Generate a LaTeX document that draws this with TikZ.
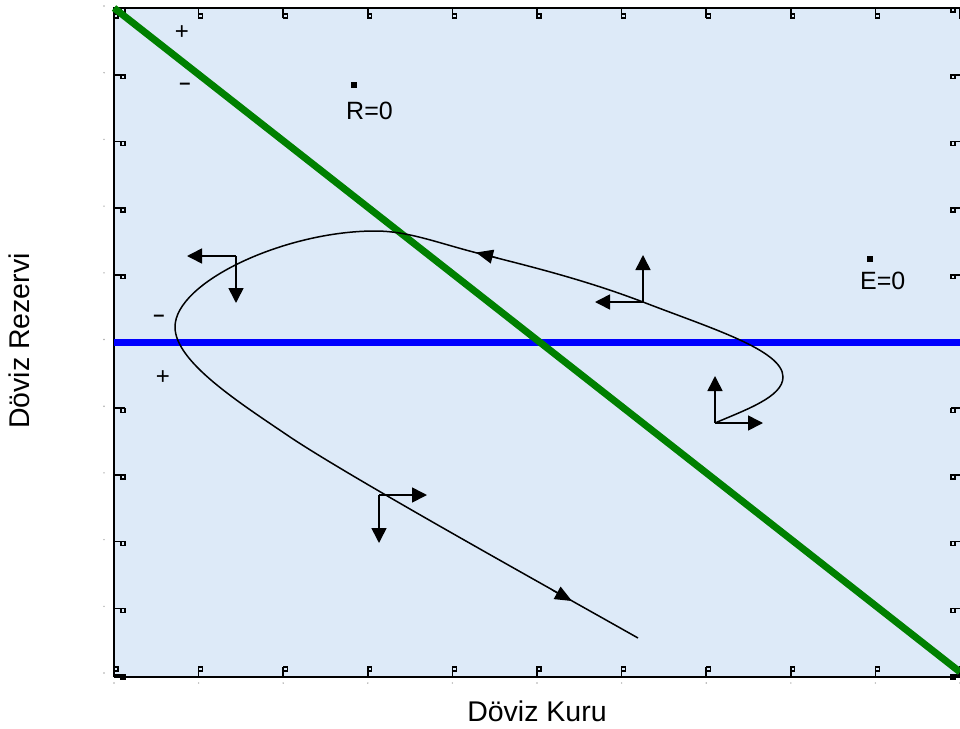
\documentclass[tikz,border=0pt]{standalone}
\usepackage{fontspec}
\setmainfont{Liberation Sans}
\usetikzlibrary{arrows.meta}
\definecolor{bgblue}{RGB}{221,234,248}
\definecolor{nullgreen}{RGB}{0,128,0}
\definecolor{nullblue}{RGB}{0,0,255}
\definecolor{dotgray}{RGB}{170,170,170}
\tikzset{
  frameline/.style={line width=2pt, black},
  tickline/.style={line width=1.6pt, black},
  phasearrow/.style={line width=1.6pt, black, -{Triangle[length=15pt,width=15pt]}},
  trajarrow/.style={line width=1.2pt, black, -{Triangle[length=17pt,width=14pt]}},
  traj/.style={line width=1.5pt, black},
  axislabel/.style={font=\fontsize{28.5}{32}\selectfont, inner sep=0pt},
  biglabel/.style={font=\fontsize{25}{30}\selectfont, inner sep=0pt},
  signlabel/.style={font=\fontsize{24}{26}\selectfont, inner sep=0pt},
  dashlabel/.style={font=\bfseries\fontsize{20}{24}\selectfont, inner sep=0pt},
  marker/.style={fill=black, minimum size=6pt, inner sep=0pt, draw=none}
}
\begin{document}
\begin{tikzpicture}[x=1pt,y=-1pt]
\useasboundingbox (0,0) rectangle (960,728);
% plot area
\fill[bgblue] (114,8) rectangle (960,677);
% faint dots outside the frame
\foreach \k in {0,...,10} {
  \fill[dotgray] ({104},{6+66.7*\k}) circle (0.8pt);
  \fill[dotgray] ({114+84.6*\k},683) circle (0.8pt);
}
% ticks
\foreach \k in {0,...,10} {
  \pgfmathsetmacro{\tx}{114+84.6*\k}
  \pgfmathsetmacro{\ty}{8+66.7*\k}
  % top
  \draw[tickline] (\tx,8) -- (\tx,18);
  \draw[line width=1.3pt] (\tx,14) rectangle ({\tx+4},18);
  % bottom
  \draw[tickline] (\tx,677) -- (\tx,667);
  \draw[line width=1.3pt] (\tx,667) rectangle ({\tx+4},671);
  % left
  \draw[tickline] (114,\ty) -- (125,\ty);
  \draw[line width=1.3pt] (121,\ty) rectangle (125,{\ty+4});
  % right
  \draw[tickline] (960,\ty) -- (951,\ty);
  \draw[line width=1.3pt] (951,\ty) rectangle (955,{\ty+4});
}
% frame
\draw[frameline] (114,677) -- (114,8) -- (956,8);
\draw[frameline] (114,677) -- (960,677);
% null clines
\coordinate (bL) at (114,342);
\coordinate (bR) at (960,342);
\coordinate (gT) at (114,8);
\coordinate (gB) at (960,672);
\draw[nullblue, line width=7pt] (bL) -- (bR);
\draw[nullgreen, line width=7pt] (gT) -- (gB);
% trajectory
\coordinate (cA) at (715,423);
\coordinate (cB) at (783,377);
\coordinate (cC) at (643,302);
\coordinate (cH) at (485,255);
\coordinate (cD) at (375,231);
\coordinate (cE) at (175,327);
\coordinate (cG) at (290,437);
\coordinate (cF) at (638,638);
\draw[traj] (cA) .. controls (745,410) and (783,397) .. (cB)
  .. controls (783,350) and (710,328) .. (cC)
  .. controls (588,281) and (535,267.5) .. (cH)
  .. controls (440,244) and (410,231) .. (cD)
  .. controls (285,231) and (175,282) .. (cE)
  .. controls (175,362) and (240,403) .. (cG)
  .. controls (350,477) and (528,576) .. (cF);
% arrowheads on the trajectory
\coordinate (ta1) at (552,590);
\coordinate (ta2) at (572,601);
\draw[trajarrow] (ta1) -- (ta2);
\coordinate (tb1) at (498,258);
\coordinate (tb2) at (476,252.5);
\draw[trajarrow] (tb1) -- (tb2);
% phase arrows
\coordinate (p1) at (236,256);
\draw[phasearrow] (p1) -- ++(-49,0);
\draw[phasearrow] (p1) -- ++(0,47);
\coordinate (p2) at (643,302);
\draw[phasearrow] (p2) -- ++(0,-47);
\draw[phasearrow] (p2) -- ++(-48,0);
\coordinate (p3) at (715,423);
\draw[phasearrow] (p3) -- ++(0,-47);
\draw[phasearrow] (p3) -- ++(48,0);
\coordinate (p4) at (379,495);
\draw[phasearrow] (p4) -- ++(48,0);
\draw[phasearrow] (p4) -- ++(0,48);
% labels
\node[marker] (mR) at (354,85) {};
\node[biglabel, anchor=base west] (lR) at (346,119) {R=0};
\node[marker] (mE) at (870,259) {};
\node[biglabel, anchor=base west] (lE) at (860,289) {E=0};
\node[signlabel] (s1) at (182,33) {+};
\node[dashlabel] (s2) at (185,86) {–};
\node[dashlabel] (s3) at (159,318) {–};
\node[signlabel] (s4) at (163,378) {+};
\node[axislabel, anchor=base] (xl) at (537,721) {Döviz Kuru};
\node[axislabel, anchor=base, rotate=90] (yl) at (29,341) {Döviz Rezervi};
\end{tikzpicture}
\end{document}
